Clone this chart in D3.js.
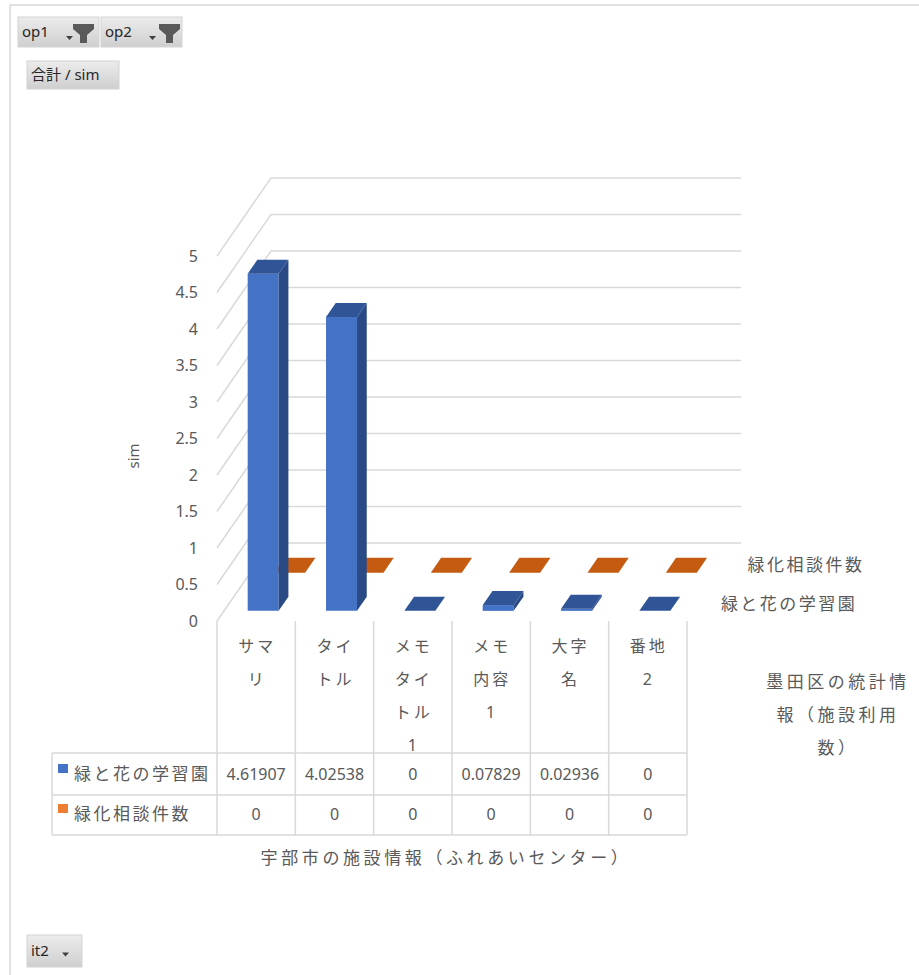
<!DOCTYPE html>
<html>
<head>
<meta charset="utf-8">
<script src="https://cdn.jsdelivr.net/npm/d3@7"></script>
<style>
  html, body { margin: 0; padding: 0; background: #fff; }
  svg { display: block; font-family: "Noto Sans", "Noto Sans CJK JP", sans-serif; }
  .lbl { fill: #595959; }
</style>
</head>
<body>
<div id="chart"></div>
<script>
// ---- data ----
const categories = ["サマリ", "タイトル", "メモタイトル1", "メモ内容1", "大字名", "番地2"];
const seriesNames = ["緑と花の学習園", "緑化相談件数"];
const gakushuen = [4.61907, 4.02538, 0, 0.07829, 0.02936, 0];
const ryokukaSodan = [0, 0, 0, 0, 0, 0];
const yTicks = [0, 0.5, 1, 1.5, 2, 2.5, 3, 3.5, 4, 4.5, 5];
const xTitle = "宇部市の施設情報（ふれあいセンター）";
const depthTitleLines = ["墨田区の統計情", "報（施設利用", "数）"];
const yTitle = "sim";

const W = 919, H = 975;
const svg = d3.select("#chart").append("svg").attr("width", W).attr("height", H);

// ---- scales ----
const x = d3.scaleBand().domain(categories).range([217, 687]).padding(0);
const y = d3.scaleLinear().domain([0, 5]).range([621, 256]);
// depth (0 = front wall, 1 = back wall) projected obliquely up and to the right
const depth = d3.scaleLinear().domain([0, 1]).range([0, 1]);
const DX = 54, DY = 78;
const P = (xf, v, z) => [xf + depth(z) * DX, y(v) - depth(z) * DY];

const grid = "#d9d9d9";
const textCol = "#595959";

// frame
svg.append("path").attr("d", `M10,${H} L10,5 L${W},5`).attr("fill", "none")
  .attr("stroke", "#d9d9d9").attr("stroke-width", 1.5);

// ---- walls ----
const walls = svg.append("g").attr("stroke", grid).attr("stroke-width", 1.5).attr("fill", "none");
yTicks.forEach(t => {
  const a = P(x.range()[0], t, 0), b = P(x.range()[0], t, 1), c = P(x.range()[1], t, 1);
  walls.append("path").attr("d", d3.line()([a, b, c]));
});

// y axis labels
const yAxis = d3.axisLeft(y).tickValues(yTicks).tickSize(0).tickPadding(19).tickFormat(d3.format(""));
const ya = svg.append("g").attr("transform", `translate(${x.range()[0]},0)`).call(yAxis);
ya.select(".domain").remove();
ya.selectAll("text").attr("fill", textCol).attr("font-size", 16)
  .attr("font-family", "'Noto Sans', sans-serif");

svg.append("text").attr("class", "lbl").attr("transform", "translate(139,456) rotate(-90)")
  .attr("text-anchor", "middle").attr("font-size", 15).text(yTitle);

// ---- bars ----
const rows = [
  { name: seriesNames[1], values: ryokukaSodan, z0: 0.62, z1: 0.81,
    front: "#ED7D31", side: "#B4561A", top: "#C55A11" },
  { name: seriesNames[0], values: gakushuen, z0: 0.13, z1: 0.31,
    front: "#4472C4", side: "#2A4A85", top: "#2F5597" }
];
const barW = 31;
const poly = pts => "M" + pts.map(p => p.join(",")).join("L") + "Z";
rows.forEach(r => {
  const g = svg.append("g");
  categories.forEach((c, i) => {
    const v = r.values[i];
    const cx = x(c) + x.bandwidth() / 2;
    const x0 = cx - barW / 2, x1 = cx + barW / 2;
    g.append("path").attr("fill", r.front)
      .attr("d", poly([P(x0, 0, r.z0), P(x1, 0, r.z0), P(x1, v, r.z0), P(x0, v, r.z0)]));
    g.append("path").attr("fill", r.side)
      .attr("d", poly([P(x1, 0, r.z0), P(x1, 0, r.z1), P(x1, v, r.z1), P(x1, v, r.z0)]));
    g.append("path").attr("fill", r.top)
      .attr("d", poly([P(x0, v, r.z0), P(x1, v, r.z0), P(x1, v, r.z1), P(x0, v, r.z1)]));
  });
  // depth axis label
  const zc = (r.z0 + r.z1) / 2;
  const a = P(x.range()[1], 0, zc);
  svg.append("text").attr("class", "lbl").attr("x", a[0] + 22).attr("y", a[1])
    .attr("dy", "0.35em").attr("font-size", 17).attr("letter-spacing", 2.5).text(r.name);
});

// depth axis title
depthTitleLines.forEach((ln, k) => {
  svg.append("text").attr("class", "lbl").attr("x", 838).attr("y", 682 + k * 33)
    .attr("dy", "0.35em").attr("text-anchor", "middle").attr("font-size", 17)
    .attr("letter-spacing", 3.5).text(ln);
});

// ---- data table ----
const tLeft = 52, tTop = 621, rowTop = 753, rowMid = 795, tBottom = 835;
const tbl = svg.append("g").attr("stroke", grid).attr("stroke-width", 1.5).attr("fill", "none");
categories.forEach(c => {
  tbl.append("line").attr("x1", x(c)).attr("x2", x(c)).attr("y1", tTop).attr("y2", tBottom);
});
tbl.append("line").attr("x1", x.range()[1]).attr("x2", x.range()[1]).attr("y1", tTop).attr("y2", tBottom);
[rowTop, rowMid, tBottom].forEach(yy => {
  tbl.append("line").attr("x1", tLeft).attr("x2", x.range()[1]).attr("y1", yy).attr("y2", yy);
});
tbl.append("line").attr("x1", tLeft).attr("x2", tLeft).attr("y1", rowTop).attr("y2", tBottom);

// category labels, wrapped two characters per line
categories.forEach(c => {
  const lines = c.match(/.{1,2}/g);
  lines.forEach((ln, k) => {
    svg.append("text").attr("class", "lbl").attr("x", x(c) + x.bandwidth() / 2 + 1)
      .attr("y", 646 + k * 33).attr("dy", "0.35em").attr("text-anchor", "middle")
      .attr("font-size", 16).attr("letter-spacing", 3).text(ln);
  });
});

// value rows
const tableRows = [
  { name: seriesNames[0], values: gakushuen, color: "#4472C4", yc: 774 },
  { name: seriesNames[1], values: ryokukaSodan, color: "#ED7D31", yc: 814 }
];
tableRows.forEach(r => {
  svg.append("rect").attr("x", 58).attr("y", r.yc - 10).attr("width", 10).attr("height", 9).attr("fill", r.color);
  svg.append("text").attr("class", "lbl").attr("x", 74).attr("y", r.yc).attr("dy", "0.35em")
    .attr("font-size", 17).attr("letter-spacing", 2.5).text(r.name);
  categories.forEach((c, i) => {
    svg.append("text").attr("class", "lbl").attr("x", x(c) + x.bandwidth() / 2).attr("y", r.yc)
      .attr("dy", "0.35em").attr("text-anchor", "middle").attr("font-size", 16)
      .text(String(r.values[i]));
  });
});

// x axis title
svg.append("text").attr("class", "lbl").attr("x", 446).attr("y", 858).attr("dy", "0.35em")
  .attr("text-anchor", "middle").attr("font-size", 17).attr("letter-spacing", 3.6).text(xTitle);

// ---- field buttons ----
const defs = svg.append("defs");
const grad = defs.append("linearGradient").attr("id", "btn").attr("x1", 0).attr("x2", 0).attr("y1", 0).attr("y2", 1);
grad.append("stop").attr("offset", "0%").attr("stop-color", "#ececec");
grad.append("stop").attr("offset", "100%").attr("stop-color", "#cfcfcf");

function button(bx, by, bw, bh, label, opts) {
  const g = svg.append("g").attr("transform", `translate(${bx},${by})`);
  g.append("rect").attr("width", bw).attr("height", bh).attr("fill", "url(#btn)")
    .attr("stroke", "#d4d4d4").attr("stroke-width", 1);
  g.append("text").attr("x", 4).attr("y", bh / 2).attr("dy", "0.35em").attr("fill", "#262626")
    .attr("font-size", 15).text(label);
  if (opts.arrow != null) {
    const ax = opts.arrow, ay = opts.arrowY != null ? opts.arrowY : bh / 2 + 4;
    g.append("path").attr("d", `M${ax},${ay} L${ax + 7},${ay} L${ax + 3.5},${ay + 4}Z`).attr("fill", "#404040");
  }
  if (opts.funnel != null) {
    const fx = opts.funnel;
    g.append("path").attr("d",
      `M${fx},7 L${fx + 21},7 L${fx + 21},12 L${fx + 14},18 L${fx + 14},26 L${fx + 7},26 L${fx + 7},18 L${fx},12Z`)
      .attr("fill", "#5a5a5a");
  }
}
button(18, 17, 81, 30, "op1", { arrow: 48, funnel: 55 });
button(101, 17, 81, 30, "op2", { arrow: 48, funnel: 58 });
button(27, 61, 92, 28, "合計 / sim", {});
button(27, 935, 55, 32, "it2", { arrow: 35, arrowY: 17.5 });
</script>
</body>
</html>
